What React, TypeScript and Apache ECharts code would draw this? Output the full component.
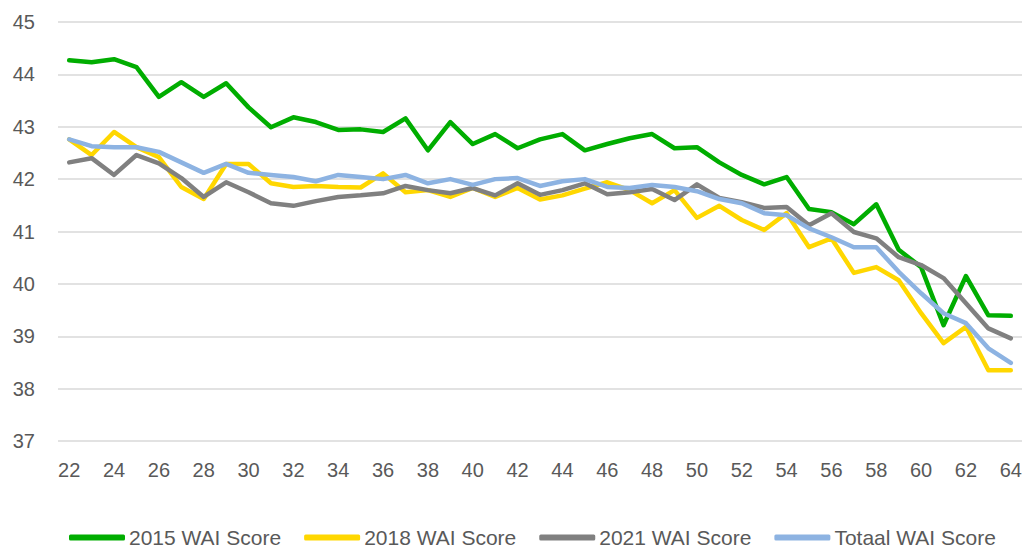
import React, { useEffect, useRef } from "react";
import * as echarts from "echarts";

const ages: string[] = [];
for (let a = 22; a <= 64; a++) ages.push(String(a));

const score2015 = [
  44.27, 44.23, 44.29, 44.14, 43.57, 43.85, 43.57, 43.83, 43.37, 42.99, 43.18,
  43.09, 42.94, 42.95, 42.9, 43.16, 42.55, 43.09, 42.67, 42.86, 42.59, 42.76,
  42.86, 42.55, 42.67, 42.78, 42.86, 42.59, 42.61, 42.32, 42.08, 41.9, 42.04,
  41.43, 41.37, 41.14, 41.52, 40.65, 40.32, 39.21, 40.15, 39.4, 39.39,
];
const score2018 = [
  42.76, 42.46, 42.9, 42.61, 42.42, 41.85, 41.62, 42.29, 42.29, 41.92, 41.85,
  41.87, 41.85, 41.84, 42.11, 41.75, 41.79, 41.66, 41.83, 41.66, 41.83, 41.61,
  41.69, 41.82, 41.94, 41.79, 41.54, 41.79, 41.26, 41.49, 41.22, 41.03, 41.35,
  40.7, 40.87, 40.21, 40.32, 40.07, 39.44, 38.87, 39.18, 38.35, 38.35,
];
const score2021 = [
  42.32, 42.4, 42.08, 42.46, 42.3, 42.02, 41.66, 41.94, 41.75, 41.54, 41.49,
  41.58, 41.66, 41.69, 41.73, 41.87, 41.79, 41.73, 41.83, 41.69, 41.92, 41.7,
  41.79, 41.92, 41.71, 41.75, 41.81, 41.6, 41.9, 41.64, 41.56, 41.45, 41.47,
  41.12, 41.35, 40.99, 40.87, 40.51, 40.36, 40.11, 39.63, 39.15, 38.96,
];
const scoreTotaal = [
  42.76, 42.63, 42.61, 42.61, 42.52, 42.32, 42.12, 42.29, 42.12, 42.08, 42.04,
  41.96, 42.08, 42.04, 42.0, 42.08, 41.92, 42.0, 41.89, 42.0, 42.02, 41.87,
  41.96, 42.0, 41.85, 41.83, 41.89, 41.85, 41.77, 41.62, 41.54, 41.35, 41.31,
  41.06, 40.89, 40.7, 40.7, 40.23, 39.82, 39.44, 39.25, 38.77, 38.49,
];

const seriesNames = ["2015 WAI Score", "2018 WAI Score", "2021 WAI Score", "Totaal WAI Score"];
const seriesColors = ["#00AD00", "#FFD700", "#808080", "#8DB3E2"];
const seriesData = [score2015, score2018, score2021, scoreTotaal];

const FONT = "'Liberation Sans', Arial, sans-serif";

export default function App() {
  const ref = useRef<HTMLDivElement>(null);
  useEffect(() => {
    if (!ref.current) return;
    const chart = echarts.init(ref.current, null, { renderer: "svg" });
    chart.setOption({
      animation: false,
      backgroundColor: "#ffffff",
      grid: { left: 58, right: 7, top: 22, bottom: 110, containLabel: false },
      legend: {
        top: 522,
        left: 64,
        icon: "roundRect",
        itemWidth: 56,
        itemHeight: 6,
        itemGap: 23,
        textStyle: { fontFamily: FONT, fontSize: 21, color: "#595959", padding: [0, 0, 0, -1] },
        data: seriesNames,
      },
      xAxis: {
        type: "category",
        data: ages,
        boundaryGap: true,
        axisLine: { show: false },
        axisTick: { show: false },
        axisLabel: {
          interval: 1,
          margin: 19,
          fontFamily: FONT,
          fontSize: 20,
          color: "#595959",
        },
      },
      yAxis: {
        type: "value",
        min: 37,
        max: 45,
        interval: 1,
        axisLine: { show: false },
        axisTick: { show: false },
        axisLabel: { margin: 23, fontFamily: FONT, fontSize: 20, color: "#595959" },
        splitLine: { lineStyle: { color: "#D9D9D9", width: 1.5 } },
      },
      series: seriesNames.map((name, i) => ({
        name,
        type: "line",
        data: seriesData[i],
        showSymbol: false,
        symbol: "none",
        color: seriesColors[i],
        lineStyle: { color: seriesColors[i], width: 4.5, cap: "round", join: "round" },
        itemStyle: { color: seriesColors[i] },
      })),
    });
    return () => chart.dispose();
  }, []);
  return (
    <div
      ref={ref}
      style={{ position: "absolute", left: 0, top: 0, width: 1029, height: 551 }}
    />
  );
}
